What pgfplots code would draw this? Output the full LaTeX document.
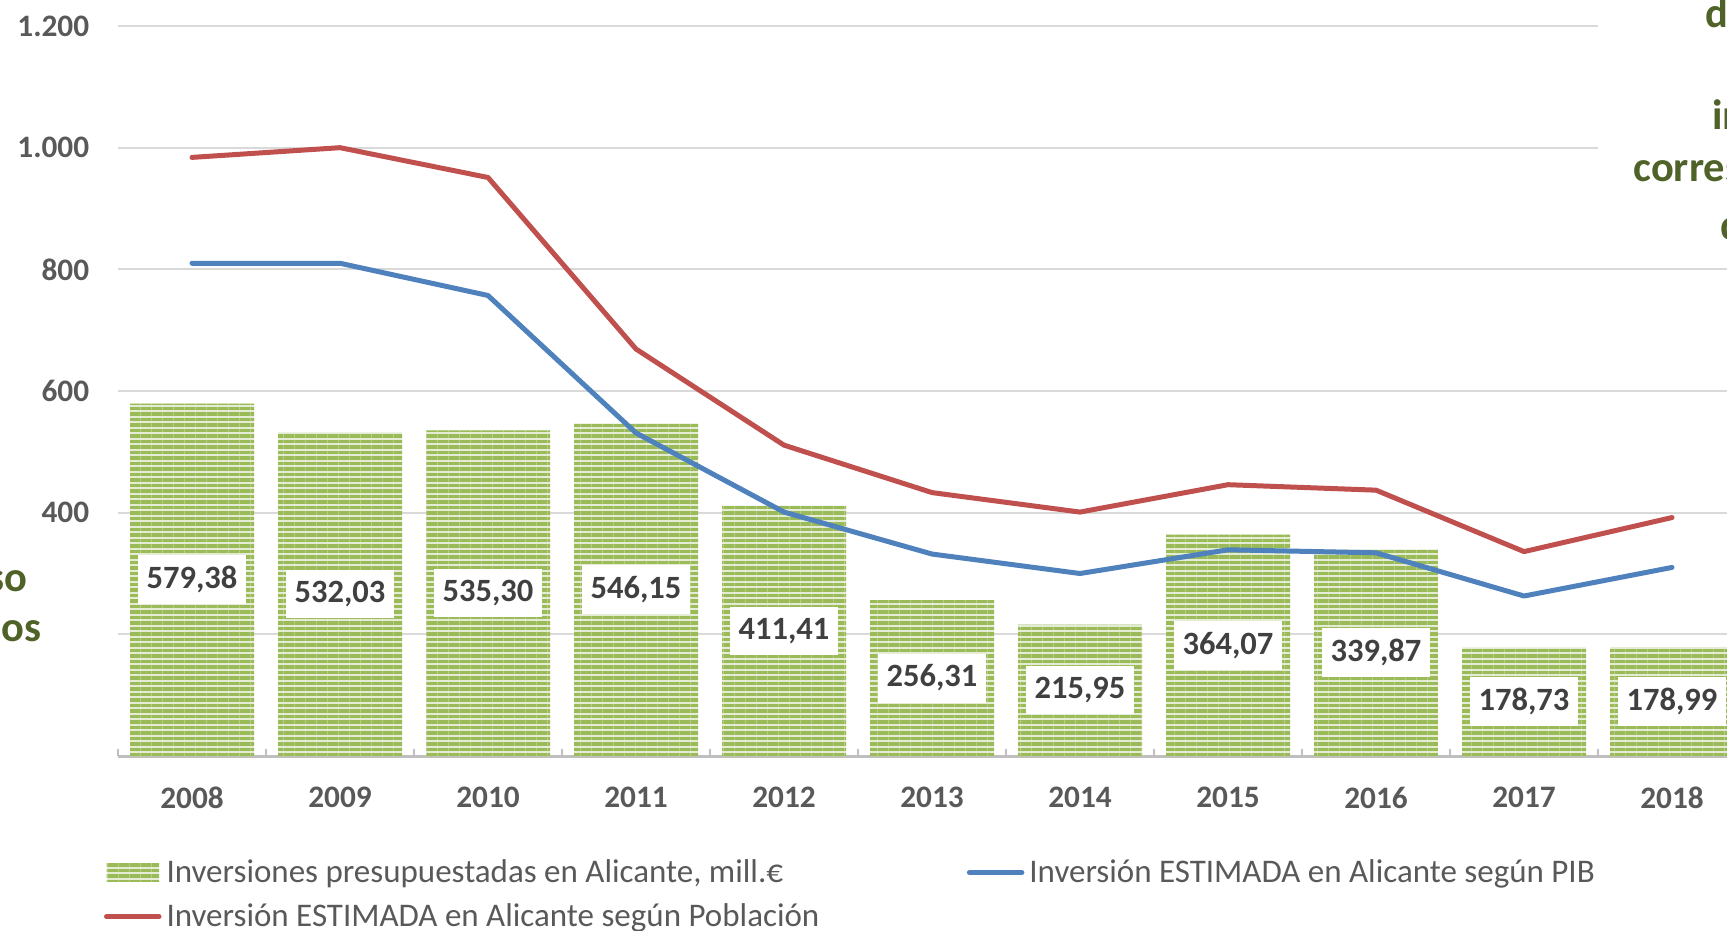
\documentclass[border=0pt]{standalone}
\usepackage{fontspec}
\setmainfont{Carlito}
\usepackage{pgfplots}
\pgfplotsset{compat=1.18}
\usetikzlibrary{patterns.meta}

\definecolor{barGreen}{HTML}{9BBB59}
\definecolor{barLight}{HTML}{E4ECD6}
\definecolor{pibBlue}{HTML}{4F81BD}
\definecolor{pobRed}{HTML}{C0504D}
\definecolor{gridGray}{HTML}{D9D9D9}
\definecolor{axisGray}{HTML}{BFBFBF}
\definecolor{tickText}{HTML}{595959}
\definecolor{labelText}{HTML}{404040}
\definecolor{oliveText}{HTML}{4F6228}

\pgfplotsset{
  wide line legend/.style={legend image code/.code={\draw[##1] (0pt,0pt) -- (21pt,0pt);}},
  striped bar legend/.style={legend image code/.code={\path[##1, draw=none] (0pt,-3.6pt) rectangle (21pt,3.6pt);}},
}

\begin{document}
% picture units: 1 = one pixel of the 1727x931 reference, y downwards
\begin{tikzpicture}[x=0.4pt,y=-0.4pt]
\begin{axis}[
  at={(47.2pt,-302.4pt)}, anchor=south west,
  scale only axis, width=651.2pt, height=292pt,
  xmin=-0.5, xmax=10.5, ymin=0, ymax=1200,
  axis x line*=bottom, axis y line*=left,
  y axis line style={draw=none},
  x axis line style={axisGray, line width=1.2pt},
  ytick={0,200,...,1200},
  yticklabels={,,400,600,800,1.000,1.200},
  xtick={0,...,10},
  xticklabels={2008,2009,2010,2011,2012,2013,2014,2015,2016,2017,2018},
  minor xtick={-0.5,0.5,...,10.5},
  major tick length=0pt, minor tick length=2.8pt, tick align=inside,
  minor tick style={axisGray, line width=1pt},
  ymajorgrids, grid style={gridGray, line width=0.8pt},
  tick label style={font=\bfseries\fontsize{12.5}{15}\selectfont, text=tickText},
  yticklabel style={xshift=-8pt},
  xticklabel style={yshift=-8.8pt},
  legend columns=2,
  legend cell align=left,
  legend style={at={(-0.0135,-0.127)}, anchor=north west, draw=none, fill=none,
    font=\fontsize{13.2}{15}\selectfont, text=tickText, row sep=3pt,
    /tikz/every even column/.append style={column sep=57pt}},
]
\addplot[ybar, bar width=49.6pt, draw=none, fill=barLight,
  postaction={pattern={Lines[angle=0,distance=2.2pt,line width=1.3pt]}, pattern color=barGreen},
  striped bar legend,
  visualization depends on={y \as \rawy},
  nodes near coords={\pgfmathprintnumber[fixed, fixed zerofill, precision=2, use comma, 1000 sep={}, assume math mode=true]{\pgfplotspointmeta}},
  every node near coord/.append style={anchor=center, yshift={-0.1216667pt*\rawy},
    fill=white, text=labelText, font=\bfseries\fontsize{13}{15}\selectfont,
    inner xsep=3.5pt, inner ysep=4.5pt},
] coordinates {
  (0,579.38) (1,532.03) (2,535.30) (3,546.15) (4,411.41) (5,256.31)
  (6,215.95) (7,364.07) (8,339.87) (9,178.73) (10,178.99)
};
\addlegendentry{Inversiones presupuestadas en Alicante, mill.€}
\addplot[pibBlue, line width=2pt, line join=round, line cap=round, wide line legend] coordinates {
  (0,810) (1,810) (2,757) (3,531) (4,401) (5,332)
  (6,300) (7,339) (8,334) (9,263) (10,310)
};
\addlegendentry{Inversión ESTIMADA en Alicante según PIB}
\addplot[pobRed, line width=2pt, line join=round, line cap=round, wide line legend] coordinates {
  (0,984) (1,1000) (2,951) (3,669) (4,511) (5,433)
  (6,401) (7,446) (8,437) (9,336) (10,392)
};
\addlegendentry{Inversión ESTIMADA en Alicante según Población}
\end{axis}

% text boxes beside the chart, cut by the picture's edge
\fill[white] (1598,-5) rectangle (1740,255);
\begin{scope}[every node/.style={font=\bfseries\fontsize{17}{20}\selectfont, text=oliveText, inner sep=0pt}]
  \node[anchor=base west] at (1705,28) {d};
  \node[anchor=base west] at (1712,130) {in};
  \node[anchor=base west] at (1633,182) {corres};
  \node[anchor=base west] at (1720,240) {d};
  \node[anchor=base east] at (28,592) {so};
  \node[anchor=base east] at (42,642) {os};
  \node[anchor=base east] at (2,743) {n};
\end{scope}

\pgfresetboundingbox
\useasboundingbox (0,0) rectangle (1727,931);
\end{tikzpicture}
\end{document}
